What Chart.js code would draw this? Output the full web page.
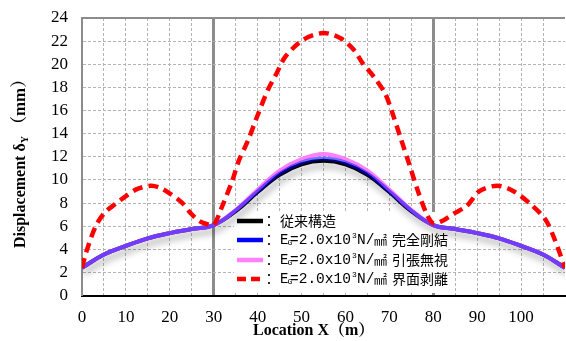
<!DOCTYPE html>
<html>
<head>
<meta charset="utf-8">
<script src="https://cdn.jsdelivr.net/npm/chart.js@4"></script>
<style>
  body { margin: 0; background: #fff; }
  canvas { display: block; }
</style>
</head>
<body>
<canvas id="grafico" width="566" height="341"></canvas>
<script>
// posiciones (m)
const posSolido = [0, 5, 10, 15, 20, 25, 30, 35, 40, 45, 50, 55, 60, 65, 70, 75, 80, 85, 90, 95, 100, 105, 110];
// 従来構造
const juraiKozo = [2.4, 3.55, 4.3, 4.95, 5.4, 5.75, 6.1, 7.3, 8.95, 10.45, 11.35, 11.65, 11.35, 10.45, 8.95, 7.3, 6.1, 5.75, 5.4, 4.95, 4.3, 3.55, 2.4];
// 完全剛結
const kanzenGoketsu = [2.4, 3.55, 4.3, 4.95, 5.4, 5.75, 6.1, 7.35, 9.0, 10.55, 11.5, 11.85, 11.5, 10.55, 9.0, 7.35, 6.1, 5.75, 5.4, 4.95, 4.3, 3.55, 2.4];
// 引張無視
const hippariMushi = [2.4, 3.55, 4.3, 4.95, 5.4, 5.75, 6.1, 7.4, 9.15, 10.8, 11.8, 12.25, 11.8, 10.8, 9.15, 7.4, 6.1, 5.75, 5.4, 4.95, 4.3, 3.55, 2.4];
// 界面剥離
const posHakuri = [0, 1, 3, 5, 7.5, 10, 12.5, 15.6, 17.6, 20.1, 22.7, 24.7, 26.7, 28.7, 30, 31.8, 34.2, 35.7, 37.8, 39.8, 42.3, 44.3, 46.3, 50.3, 54.9, 58.9, 61.9, 63.9, 66.5, 69, 70.5, 72.5, 74.5, 76.5, 78.5, 80, 82, 84.5, 87.6, 90.6, 94.6, 98.2, 102.2, 105.5, 107.5, 110];
const kaimenHakuri = [2.4, 3.8, 5.9, 7.1, 7.9, 8.6, 9.2, 9.5, 9.35, 8.8, 8.05, 7.15, 6.45, 6.15, 6.1, 7.6, 9.9, 11.65, 13.4, 15.4, 17.75, 19.2, 20.65, 22.1, 22.7, 22.25, 21.25, 20.1, 18.9, 17.5, 16.0, 13.7, 11.4, 9.05, 7.05, 6.25, 6.45, 7.05, 7.75, 9.05, 9.5, 9.05, 7.9, 6.6, 5.0, 2.4];

const etiquetas = ["従来構造", "完全剛結", "引張無視", "界面剥離"];
const colores = ["#000000", "#0000ff", "#ff80ff", "#ff0000"];

const pares = (xs, ys) => xs.map((x, i) => ({ x: x, y: ys[i] }));

const serif = "'Liberation Serif', 'Noto Serif CJK JP', 'Noto Sans CJK JP', serif";
const cjk = "'Noto Sans CJK JP', sans-serif";
const mono = "'Liberation Mono', monospace";

// sombra gris bajo las curvas continuas
const sombra = {
  id: "sombra",
  beforeDatasetDraw(chart, args) {
    if (args.index !== 0) return;
    const c = chart.ctx;
    c.save();
    c.shadowColor = "rgba(0,0,0,0.35)";
    c.shadowBlur = 7;
    c.shadowOffsetX = 2;
    c.shadowOffsetY = 5;
  },
  afterDatasetDraw(chart, args) {
    if (args.index !== 0) return;
    chart.ctx.restore();
  },
};

// titulos de ejes y leyenda
const textos = {
  id: "textos",
  beforeDatasetsDraw(chart) {
    // fondo blanco de la leyenda (debajo de las curvas)
    const c = chart.ctx;
    c.save();
    c.fillStyle = "#fff";
    c.fillRect(234, 212, 212, 81);
    c.restore();
  },
  afterDraw(chart) {
    const c = chart.ctx;
    c.save();
    c.fillStyle = "#000";
    c.textBaseline = "middle";
    c.textAlign = "left";

    // eje Y
    c.save();
    c.translate(21, 248);
    c.rotate(-Math.PI / 2);
    c.font = "bold 16px " + serif;
    let t = "Displacement δ";
    c.fillText(t, 0, 0);
    let w = c.measureText(t).width;
    c.font = "bold 10px " + serif;
    c.fillText("Y", w, 4);
    w += c.measureText("Y").width + 3;
    c.font = "bold 17px " + serif;
    c.fillText("（mm）", w, 0);
    c.restore();

    // eje X
    c.font = "bold 16px " + serif;
    c.fillText("Location X（m）", 253, 331);

    // leyenda
    const filas = [221, 240, 260, 279];
    filas.forEach((y, i) => {
      c.beginPath();
      c.strokeStyle = colores[i];
      c.lineWidth = 4.5;
      c.setLineDash(i === 3 ? [9, 5] : []);
      c.moveTo(237, y);
      c.lineTo(263, y);
      c.stroke();
      c.setLineDash([]);

      c.fillStyle = "#000";
      c.font = "14px " + cjk;
      c.fillText("：", 262, y);
      if (i === 0) {
        c.fillText(etiquetas[i], 280, y);
        return;
      }
      c.font = "14px " + mono;
      c.fillText("E", 280, y);
      c.font = "8px " + mono;
      c.fillText("G", 287.5, y + 3);
      c.font = "14.5px " + mono;
      c.fillText("=2.0x10", 290, y);
      c.font = "8px " + mono;
      c.fillText("3", 352, y - 4);
      c.font = "14.5px " + mono;
      c.fillText("N/", 357, y);
      c.font = "13px " + cjk;
      c.fillText("㎟", 374, y);
      c.font = "14px " + cjk;
      c.fillText(etiquetas[i], 392, y);
    });
    c.restore();
  },
};

const esVertical = (v) => v === 30 || v === 80;
const invisible = "rgba(0,0,0,0)";

new Chart(document.getElementById("grafico").getContext("2d"), {
  type: "line",
  data: {
    datasets: [
      {
        label: etiquetas[0],
        data: pares(posSolido, juraiKozo),
        borderColor: colores[0],
        borderWidth: 4,
        tension: 0.4,
        order: 4,
      },
      {
        label: etiquetas[1],
        data: pares(posSolido, kanzenGoketsu),
        borderColor: "rgba(0,0,255,0.55)",
        borderWidth: 4,
        tension: 0.4,
        order: 2,
      },
      {
        label: etiquetas[2],
        data: pares(posSolido, hippariMushi),
        borderColor: colores[2],
        borderWidth: 4,
        tension: 0.4,
        order: 3,
      },
      {
        label: etiquetas[3],
        data: pares(posHakuri, kaimenHakuri),
        borderColor: colores[3],
        borderWidth: 4.5,
        borderDash: [10, 6],
        tension: 0.3,
        order: 1,
      },
    ],
  },
  options: {
    responsive: false,
    animation: false,
    devicePixelRatio: 1,
    elements: { point: { radius: 0 } },
    layout: { padding: { left: 51, top: 18, right: 1, bottom: 13 } },
    plugins: {
      legend: { display: false },
      tooltip: { enabled: false },
    },
    scales: {
      x: {
        type: "linear",
        min: 0,
        max: 110,
        ticks: {
          stepSize: 5,
          autoSkip: false,
          maxRotation: 0,
          padding: 0,
          color: "#000",
          font: { family: serif, size: 17 },
          callback: (v) => (v % 10 === 0 && v <= 100 ? v : ""),
        },
        grid: {
          drawTicks: true,
          tickLength: 12,
          tickColor: invisible,
          color: (ctx) => {
            const v = ctx.tick ? ctx.tick.value : null;
            if (v === 0 || v === 110) return invisible;
            return esVertical(v) ? "#8c8c8c" : "#b4b4b4";
          },
          lineWidth: (ctx) => (ctx.tick && esVertical(ctx.tick.value) ? 3 : 1),
        },
        border: {
          color: "#000",
          width: 2,
          dash: (ctx) => (ctx.tick && !esVertical(ctx.tick.value) ? [3, 2] : []),
        },
      },
      y: {
        min: 0,
        max: 24,
        ticks: {
          stepSize: 2,
          autoSkip: false,
          padding: 0,
          color: "#000",
          font: { family: serif, size: 17 },
        },
        grid: {
          drawTicks: true,
          tickLength: 14,
          tickColor: invisible,
          color: (ctx) => {
            const v = ctx.tick ? ctx.tick.value : null;
            if (v === 0) return invisible;
            return v === 24 ? "#8c8c8c" : "#b4b4b4";
          },
          lineWidth: (ctx) => (ctx.tick && ctx.tick.value === 24 ? 2 : 1),
        },
        border: {
          color: "#8c8c8c",
          width: 2,
          dash: (ctx) => (ctx.tick && ctx.tick.value !== 24 ? [3, 2] : []),
        },
      },
    },
  },
  plugins: [sombra, textos],
});
</script>
</body>
</html>
